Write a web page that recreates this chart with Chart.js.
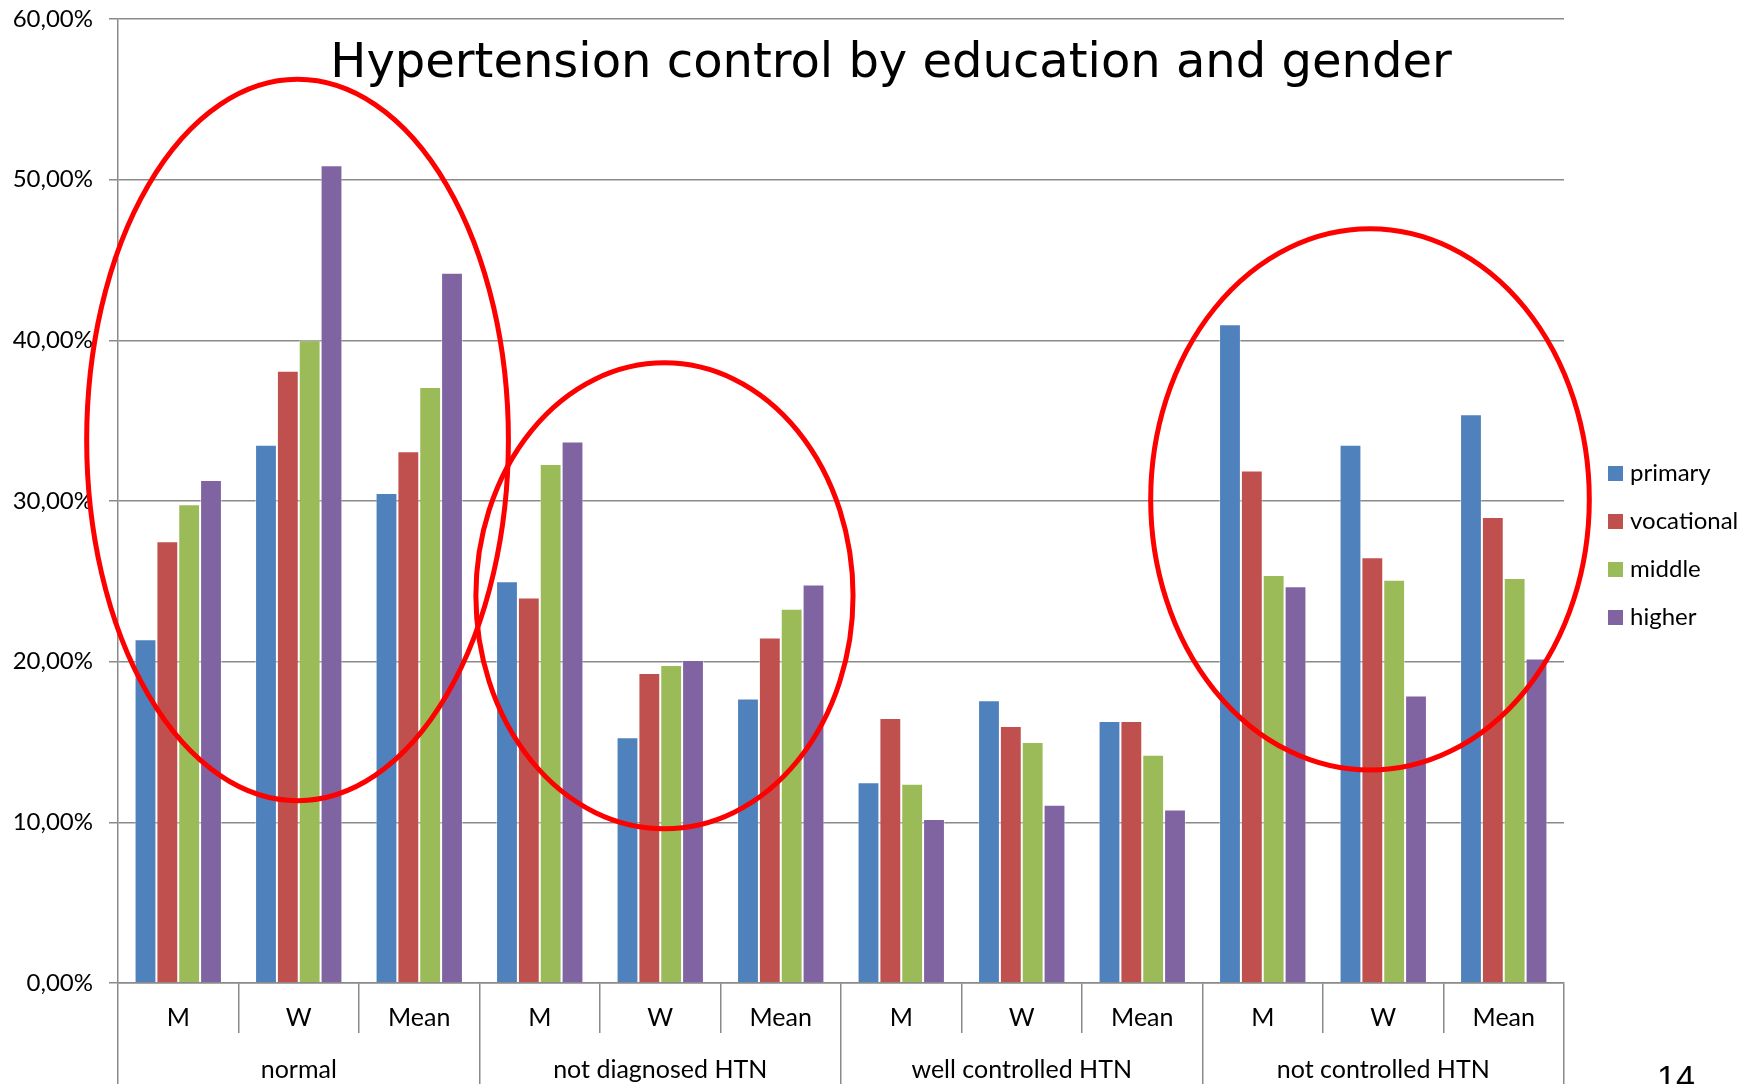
<!DOCTYPE html>
<html>
<head>
<meta charset="utf-8">
<title>Hypertension control by education and gender</title>
<script src="https://cdn.jsdelivr.net/npm/chart.js@4.4.1/dist/chart.umd.min.js"></script>
<style>
  html, body { margin: 0; padding: 0; background: #fff; }
</style>
</head>
<body>
<canvas id="myChart" width="1757" height="1084"></canvas>
<script>
const chartTitle = "Hypertension control by education and gender";
const categories = ["M", "W", "Mean", "M", "W", "Mean", "M", "W", "Mean", "M", "W", "Mean"];
const groups = ["normal", "not diagnosed HTN", "well controlled HTN", "not controlled HTN"];
const seriesNames = ["primary", "vocational", "middle", "higher"];

const primary = [21.4, 33.5, 30.5, 25.0, 15.3, 17.7, 12.5, 17.6, 16.3, 41.0, 33.5, 35.4];
const vocational = [27.5, 38.1, 33.1, 24.0, 19.3, 21.5, 16.5, 16.0, 16.3, 31.9, 26.5, 29.0];
const middle = [29.8, 40.0, 37.1, 32.3, 19.8, 23.3, 12.4, 15.0, 14.2, 25.4, 25.1, 25.2];
const higher = [31.3, 50.9, 44.2, 33.7, 20.1, 24.8, 10.2, 11.1, 10.8, 24.7, 17.9, 20.2];

const yTickLabels = ["0,00%", "10,00%", "20,00%", "30,00%", "40,00%", "50,00%", "60,00%"];

const colors = ["#4F81BD", "#C0504D", "#9BBB59", "#8064A2"];
const gridColor = "#8a8a8a";

// red rings drawn over the chart: group, shift in categories, half width in categories,
// centre and half height in percent
const rings = [
  { group: 0, shift: -0.01, rx: 1.75, mid: 33.8, ry: 22.45 },
  { group: 1, shift: 0.035, rx: 1.565, mid: 24.1, ry: 14.5 },
  { group: 3, shift: -0.11, rx: 1.82, mid: 30.1, ry: 16.85 },
];

Chart.defaults.font.family = "Lato";
Chart.defaults.font.size = 24;
Chart.defaults.color = "#000";

const ringPlugin = {
  id: "rings",
  afterDatasetsDraw(chart) {
    const { ctx, scales } = chart;
    const x = scales.x;
    const y = scales.y;
    const catW = x.width / categories.length;
    ctx.save();
    ctx.strokeStyle = "#ff0000";
    ctx.lineWidth = 5;
    rings.forEach((r) => {
      const cx = x.getPixelForValue(r.group * 3 + 1) + r.shift * catW;
      const cy = y.getPixelForValue(r.mid);
      const ry = y.getPixelForValue(0) - y.getPixelForValue(r.ry);
      ctx.beginPath();
      ctx.ellipse(cx, cy, r.rx * catW, ry, 0, 0, Math.PI * 2);
      ctx.stroke();
    });
    ctx.restore();
  },
};

const textPlugin = {
  id: "texts",
  afterDraw(chart) {
    const { ctx, chartArea } = chart;
    ctx.save();
    // title sits inside the plot area
    ctx.font = "48px 'DejaVu Sans'";
    ctx.fillStyle = "#000";
    ctx.textAlign = "center";
    ctx.textBaseline = "alphabetic";
    ctx.fillText(chartTitle, 891, 77);

    // legend on the right
    const step = 48;
    const x0 = chartArea.right + 44;
    const y0 = chart.height / 2 + 3 - step * 1.5;
    ctx.font = "24px Lato";
    ctx.textAlign = "left";
    ctx.textBaseline = "middle";
    chart.data.datasets.forEach((ds, i) => {
      const yy = y0 + i * step;
      ctx.fillStyle = ds.backgroundColor;
      ctx.fillRect(x0, yy - 7, 15, 15);
      ctx.fillStyle = "#000";
      ctx.fillText(ds.label, x0 + 22, yy);
    });

    // slide number, cut by the bottom edge
    ctx.font = "34px 'Liberation Sans'";
    ctx.textBaseline = "alphabetic";
    ctx.fillText("14", 1657, 1089);
    ctx.restore();
  },
};

const ctx = document.getElementById("myChart").getContext("2d");

const myChart = new Chart(ctx, {
  type: "bar",
  data: {
    labels: categories,
    datasets: [primary, vocational, middle, higher].map((values, i) => ({
      label: seriesNames[i],
      data: values,
      backgroundColor: colors[i],
      borderColor: "rgba(255, 255, 255, 0.45)",
      borderWidth: 1,
      categoryPercentage: 0.725,
      barPercentage: 1,
    })),
  },
  options: {
    responsive: false,
    animation: false,
    layout: {
      padding: { top: 19, right: 193, bottom: 0, left: 0 },
    },
    plugins: {
      legend: { display: false },
      title: { display: false },
      tooltip: { enabled: false },
    },
    scales: {
      x: {
        weight: 0,
        offset: true,
        grid: {
          offset: true,
          drawOnChartArea: false,
          tickLength: 50,
          color: gridColor,
          lineWidth: 1.5,
        },
        border: { display: true, color: gridColor, width: 1.5 },
        ticks: { padding: -30, maxRotation: 0, font: { size: 25 } },
        afterFit: (scale) => {
          scale.height = 50;
        },
      },
      x2: {
        type: "category",
        position: "bottom",
        weight: 1,
        labels: groups,
        offset: true,
        grid: {
          offset: true,
          drawOnChartArea: false,
          tickLength: 60,
          color: gridColor,
          lineWidth: 1.5,
        },
        border: { display: false },
        ticks: { padding: -38, maxRotation: 0, font: { size: 25 } },
        afterFit: (scale) => {
          scale.height = 51;
        },
      },
      y: {
        min: 0,
        max: 60,
        ticks: {
          stepSize: 10,
          padding: 16,
          callback: (value, index) => yTickLabels[index],
        },
        grid: {
          color: gridColor,
          lineWidth: 1.5,
          tickLength: 9,
        },
        border: { display: true, color: gridColor, width: 1.5 },
        afterFit: (scale) => {
          scale.width = 118;
          scale.paddingTop = 0;
          scale.paddingBottom = 0;
        },
      },
    },
  },
  plugins: [ringPlugin, textPlugin],
});
</script>
</body>
</html>
